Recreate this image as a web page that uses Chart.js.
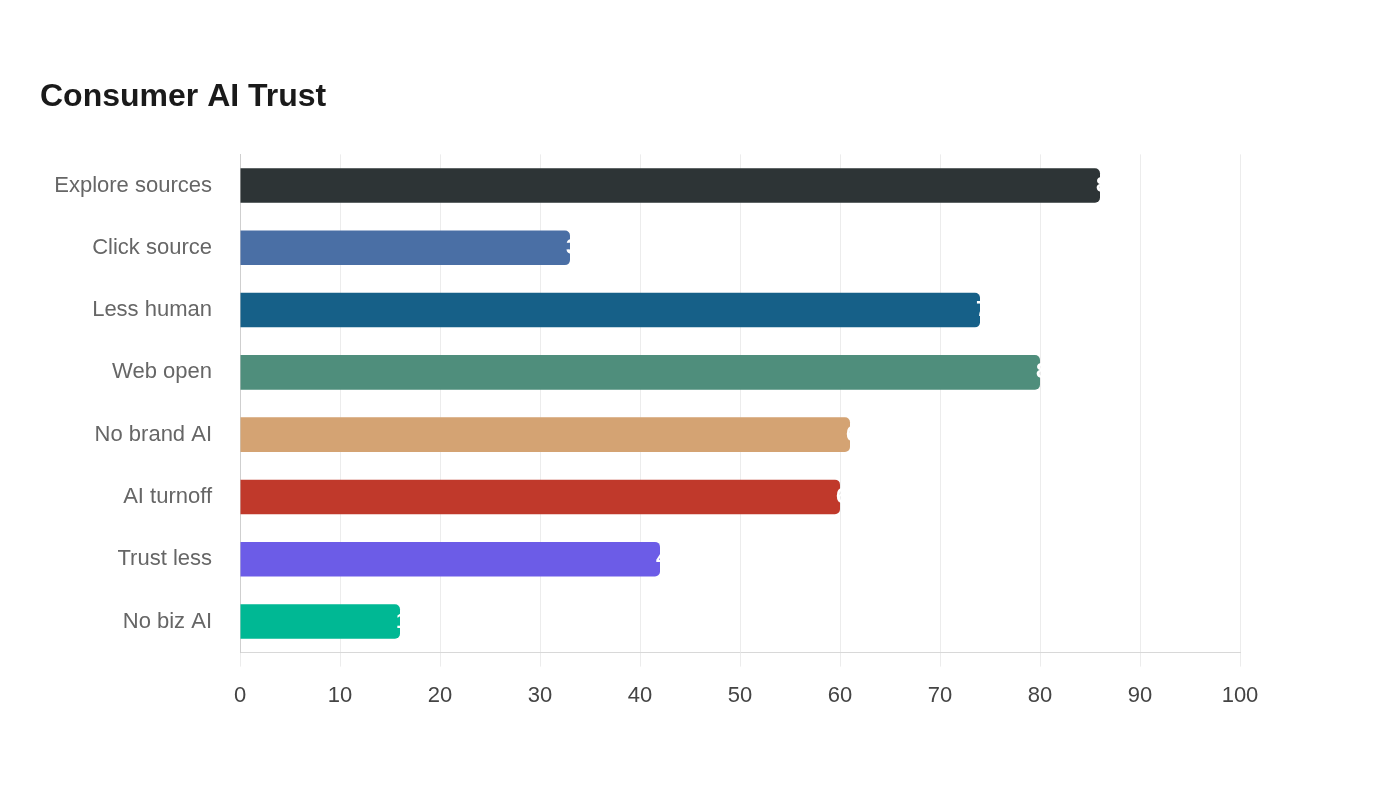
<!DOCTYPE html>
<html>
<head>
<meta charset="utf-8">
<script src="https://cdn.jsdelivr.net/npm/chart.js@4"></script>
<style>
  html, body { margin: 0; padding: 0; background: #fff; }
  #wrap { width: 1400px; height: 800px; }
</style>
</head>
<body>
<div id="wrap"><canvas id="trustChart"></canvas></div>
<script>
const categories = ["Explore sources", "Click source", "Less human", "Web open", "No brand AI", "AI turnoff", "Trust less", "No biz AI"];
const trustValues = [86, 33, 74, 80, 61, 60, 42, 16];
const barColors = ["#2d3436", "#4a6fa5", "#166088", "#4f8e7c", "#d4a373", "#c0392b", "#6c5ce7", "#00b894"];
const xTicks = [0, 10, 20, 30, 40, 50, 60, 70, 80, 90, 100];

const FONT = "'Liberation Sans', Arial, Helvetica, sans-serif";

// white value labels drawn right at the bar end
const endLabels = {
  id: "endLabels",
  afterDatasetsDraw(chart) {
    const ctx = chart.ctx;
    const meta = chart.getDatasetMeta(0);
    ctx.save();
    ctx.fillStyle = "#ffffff";
    ctx.font = "bold 22px " + FONT;
    ctx.textAlign = "left";
    ctx.textBaseline = "middle";
    meta.data.forEach((bar, i) => {
      ctx.fillText(String(trustValues[i]), bar.x - 4, bar.y);
    });
    ctx.restore();
  },
};

const ctx = document.getElementById("trustChart").getContext("2d");
new Chart(ctx, {
  type: "bar",
  data: {
    labels: categories,
    datasets: [
      {
        data: trustValues,
        backgroundColor: barColors,
        borderRadius: 5,
        borderSkipped: "start",
        barPercentage: 0.555,
        categoryPercentage: 1,
      },
    ],
  },
  options: {
    indexAxis: "y",
    responsive: true,
    maintainAspectRatio: false,
    animation: false,
    layout: {
      padding: { left: 40, right: 160, top: 78, bottom: 75 },
    },
    scales: {
      x: {
        min: 0,
        max: 100,
        afterBuildTicks: (axis) => {
          axis.ticks = xTicks.map((v) => ({ value: v }));
        },
        grid: { color: "#ececec", tickLength: 14 },
        border: { color: "#d8d8d8" },
        ticks: {
          color: "#444",
          font: { family: FONT, size: 22 },
          padding: 16,
        },
      },
      y: {
        afterFit: (axis) => {
          axis.width = 200;
        },
        grid: { display: false },
        border: { color: "#cfcfcf" },
        ticks: {
          color: "#666",
          font: { family: FONT, size: 22 },
          padding: 20,
        },
      },
    },
    plugins: {
      title: {
        display: true,
        text: "Consumer AI Trust",
        align: "start",
        color: "#1a1a1a",
        font: { family: FONT, size: 32, weight: "bold" },
        padding: { top: 0, bottom: 38 },
      },
      legend: { display: false },
      tooltip: { enabled: false },
    },
  },
  plugins: [endLabels],
});
</script>
</body>
</html>
